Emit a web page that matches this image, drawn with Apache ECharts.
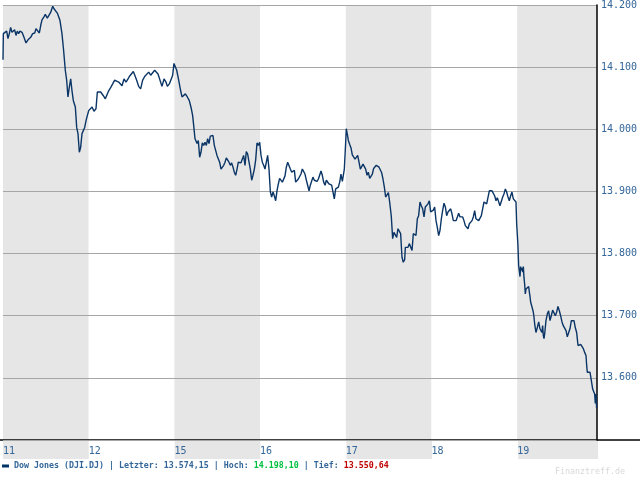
<!DOCTYPE html>
<html><head><meta charset="utf-8">
<script src="https://cdn.jsdelivr.net/npm/echarts@6/dist/echarts.min.js"></script>
<style>html,body{margin:0;padding:0;background:#fff}#c{width:640px;height:480px}</style>
</head><body><div id="c"></div>
<script>
// day labels (trading days, index 0..6)
const dayLabels = ['11', '12', '15', '16', '17', '18', '19'];
// time in trading days from start (0 = open of the 11th)
const times = [
0.000,0.004,0.019,0.043,0.058,0.074,0.089,0.105,0.121,0.136,0.152,0.167,0.183,0.198,0.222,0.245,0.268,0.292,0.323,0.346,
0.370,0.385,0.408,0.424,0.440,0.455,0.478,0.494,0.517,0.540,0.556,0.580,0.595,0.611,0.634,0.650,0.665,0.688,0.704,0.727,
0.743,0.758,0.774,0.790,0.805,0.821,0.844,0.860,0.875,0.891,0.906,0.922,0.937,0.953,0.969,0.984,1.000,1.015,1.039,1.062,
1.085,1.101,1.116,1.140,1.171,1.194,1.210,1.233,1.256,1.280,1.303,1.326,1.350,1.373,1.389,1.412,1.435,1.459,1.474,1.497,
1.521,1.544,1.560,1.583,1.606,1.630,1.653,1.676,1.700,1.723,1.746,1.770,1.785,1.809,1.832,1.855,1.879,1.902,1.918,1.941,
1.964,1.980,1.995,2.011,2.027,2.050,2.073,2.089,2.112,2.128,2.151,2.174,2.198,2.213,2.229,
2.240,2.264,2.279,2.295,2.310,2.326,2.342,2.357,2.373,2.388,2.404,2.419,2.435,2.450,2.466,2.482,2.497,2.513,2.528,2.544,
2.559,2.575,2.591,2.606,2.622,2.637,2.653,2.668,2.684,2.699,2.715,2.731,2.746,2.762,2.777,2.793,2.808,2.824,2.839,2.855,
2.871,2.886,2.902,2.917,2.933,2.948,2.964,2.980,2.995,3.011,3.026,3.042,3.057,3.073,3.088,3.104,3.120,3.135,3.151,3.166,
3.182,3.197,3.213,3.228,3.244,3.260,3.275,3.291,3.306,3.322,3.337,3.353,3.369,3.384,3.400,3.415,3.431,3.446,3.462,3.477,
3.493,3.509,3.524,3.540,3.555,3.571,3.586,3.602,3.617,3.633,3.649,3.664,3.680,3.695,3.711,3.726,3.742,3.758,3.773,3.789,
3.804,3.820,3.835,3.851,3.866,3.882,3.898,3.913,3.929,3.944,3.960,3.983,3.999,4.006,4.014,4.030,4.045,4.061,4.076,4.092,
4.108,4.123,4.139,4.154,4.170,4.185,4.201,4.217,4.232,4.248,4.263,4.279,4.294,4.310,4.325,4.341,4.356,4.372,4.388,4.403,
4.419,4.434,4.450,4.465,4.481,4.497,4.512,4.531,
4.547,4.562,4.578,4.594,4.609,4.625,4.640,4.656,4.671,4.687,4.695,4.710,4.726,4.741,4.757,4.773,4.788,4.804,4.819,4.835,
4.850,4.866,4.881,4.897,4.913,4.928,4.944,4.959,4.975,4.990,5.006,5.022,5.037,5.053,5.068,5.084,5.099,5.115,5.130,5.146,
5.162,5.177,5.193,5.208,5.224,5.239,5.255,5.270,5.286,5.302,5.317,5.333,5.348,5.364,5.379,5.395,5.411,5.426,5.442,5.457,
5.473,5.488,5.504,5.519,5.535,5.551,5.566,5.582,5.597,5.613,5.628,5.644,5.659,5.675,5.691,5.706,5.722,5.737,5.753,5.768,
5.784,5.799,5.815,5.831,5.846,5.862,5.877,5.893,5.908,5.924,5.939,5.955,5.970,5.986,5.994,6.009,6.017,
6.025,6.033,6.040,6.048,6.056,6.064,6.072,6.079,6.087,6.095,6.103,6.110,6.126,6.134,6.142,6.149,6.157,6.173,6.188,6.196,
6.204,6.219,6.235,6.251,6.266,6.282,6.289,6.297,6.305,6.313,6.321,6.336,6.352,6.367,6.383,6.398,6.414,6.429,6.445,6.461,
6.476,6.492,6.507,6.523,6.538,6.554,6.570,6.585,6.601,6.616,6.632,6.647,6.663,6.678,6.694,6.710,6.725,6.741,6.756,6.772,
6.787,6.795,6.803,6.811,6.818,6.834,6.850,6.865,6.881,6.896,6.904,6.912,6.920,6.927
];
// Dow Jones index level
const values = [
14112,14154,14156,14158,14146,14154,14164,14156,14154,14160,14151,14158,14154,14158,14156,14148,14139,14144,14148,14154,
14155,14162,14159,14155,14167,14176,14181,14185,14179,14178,14188,14198,14194,14191,14187,14190,14175,14154,14132,14095,
14079,14052,14068,14081,14062,14046,14036,14003,13993,13963,13971,13993,13995,14003,14014,14022,14030,14027,14036,14029,
14033,14060,14063,14060,14054,14049,14052,14062,14067,14073,14079,14081,14076,14073,14070,14081,14076,14081,14085,14087,
14093,14090,14079,14069,14065,14079,14085,14083,14092,14087,14089,14095,14092,14089,14087,14069,14081,14076,14069,14073,
14076,14087,14106,14103,14095,14079,14062,14052,14053,14057,14052,14046,14033,14022,14001,
13985,13977,13982,13955,13963,13978,13974,13979,13974,13985,13977,13989,13987,13990,13974,13971,13958,13958,13947,13936,
13934,13942,13947,13954,13954,13947,13942,13946,13939,13931,13926,13936,13947,13948,13946,13952,13958,13942,13964,13960,
13947,13936,13918,13926,13936,13950,13978,13974,13979,13958,13947,13942,13936,13947,13958,13936,13899,13891,13899,13893,
13885,13901,13912,13921,13918,13915,13912,13925,13939,13947,13950,13936,13931,13928,13934,13915,13918,13920,13921,13928,
13936,13937,13928,13918,13910,13901,13910,13912,13923,13918,13921,13916,13920,13923,13933,13926,13915,13910,13918,13920,
13912,13915,13910,13899,13888,13904,13901,13907,13915,13928,13916,13936,13980,14001,13995,13982,13976,13970,13959,13958,
13952,13955,13958,13960,13936,13939,13944,13946,13936,13926,13931,13921,13923,13928,13937,13939,13942,13943,13939,13936,
13930,13920,13907,13891,13893,13898,13883,13860,
13824,13834,13832,13826,13840,13837,13832,13794,13786,13790,13810,13813,13810,13816,13813,13805,13832,13834,13829,13856,
13861,13883,13877,13872,13859,13875,13872,13880,13885,13867,13864,13870,13875,13853,13842,13829,13837,13856,13869,13881,
13875,13861,13867,13869,13872,13864,13853,13851,13853,13859,13865,13859,13856,13859,13853,13845,13842,13840,13848,13851,
13853,13859,13869,13856,13853,13853,13851,13861,13872,13883,13885,13880,13883,13901,13904,13901,13899,13893,13885,13890,
13893,13877,13877,13891,13896,13904,13899,13891,13885,13893,13899,13888,13891,13883,13848,13813,13781,
13781,13763,13779,13773,13777,13770,13779,13762,13751,13735,13743,13741,13743,13747,13738,13732,13722,13714,13706,13698,
13687,13673,13681,13690,13679,13681,13673,13684,13668,13663,13671,13692,13703,13708,13692,13700,13709,13706,13700,13706,
13715,13708,13700,13690,13684,13687,13676,13666,13673,13679,13692,13695,13692,13681,13673,13652,13650,13654,13652,13647,
13641,13644,13636,13620,13609,13612,13609,13596,13582,13580,13574,13559,13574,13551
];
const seriesName = 'Dow Jones (DJI.DJ)';
const lastValue = '13.574,15';
const highValue = '14.198,10';
const lowValue = '13.550,64';
const sourceText = 'Finanztreff.de';
const yMin = 13500, yMax = 14200, yStep = 100;
const xMax = 6.93;

const data = times.map((t, i) => [t, values[i]]);
const font = 'DejaVu Sans Mono';
const blue = '#336699';
const bands = { show: true, areaStyle: { color: ['#e6e6e6', '#ffffff'] } };

const chart = echarts.init(document.getElementById('c'), null, { renderer: 'canvas' });
chart.setOption({
  animation: false,
  backgroundColor: '#ffffff',
  title: [
    {
      left: 2, top: 462, padding: 0,
      text: '{dash|}{t| ' + seriesName + ' | Letzter: ' + lastValue + ' | Hoch: }{g|' + highValue + '}{t| | Tief: }{r|' + lowValue + '}',
      textStyle: {
        rich: {
          dash: { width: 7, height: 3, backgroundColor: '#003366' },
          t: { fontFamily: font, fontSize: 8.3, color: blue },
          g: { fontFamily: font, fontSize: 8.3, color: '#00c040' },
          r: { fontFamily: font, fontSize: 8.3, color: '#c00000' }
        }
      }
    },
    {
      right: 15, top: 468, padding: 0,
      text: sourceText,
      textStyle: { fontFamily: font, fontSize: 8.3, fontWeight: 'normal', color: '#d8d8d8' }
    }
  ],
  grid: [
    { left: 3, top: 4.5, width: 594, height: 435.5 },
    { left: 3, top: 440, width: 595, height: 19 },
    { left: 0, top: 440, width: 640, height: 0 }
  ],
  xAxis: [
    {
      gridIndex: 0, type: 'value', min: 0, max: xMax, interval: 1, z: -2,
      axisLine: { show: false }, axisTick: { show: false }, splitLine: { show: false },
      splitArea: bands,
      axisLabel: {
        show: true, align: 'left', margin: 6, color: blue, fontFamily: font, fontSize: 10,
        showMaxLabel: false,
        formatter: v => (Math.abs(v - Math.round(v)) < 1e-6 && dayLabels[Math.round(v)]) ? dayLabels[Math.round(v)] : ''
      }
    },
    {
      gridIndex: 1, type: 'value', min: 0, max: xMax, interval: 1, z: -3,
      axisLine: { show: false }, axisTick: { show: false }, axisLabel: { show: false },
      splitLine: { show: false }, splitArea: bands
    },
    {
      gridIndex: 2, type: 'value', min: 0, max: 1,
      axisLine: { show: true, lineStyle: { color: '#000000', width: 1.5 } },
      axisTick: { show: false }, axisLabel: { show: false }, splitLine: { show: false }
    }
  ],
  yAxis: [
    {
      gridIndex: 0, type: 'value', position: 'right', min: yMin, max: yMax, interval: yStep, z: 1,
      axisLine: { show: true, onZero: false, lineStyle: { color: '#000000', width: 1.5 } },
      axisTick: { show: false },
      splitLine: { show: true, lineStyle: { color: '#a6a6a6', width: 1 } },
      axisLabel: {
        margin: 4, color: blue, fontFamily: font, fontSize: 10, showMinLabel: false,
        formatter: v => (v / 1000).toFixed(3)
      }
    },
    { gridIndex: 1, type: 'value', show: false },
    { gridIndex: 2, type: 'value', show: false }
  ],
  series: [
    {
      type: 'line', name: seriesName, xAxisIndex: 0, yAxisIndex: 0,
      data: data, showSymbol: false, symbol: 'none',
      lineStyle: { color: '#0a3566', width: 1.4 }
    }
  ]
});
</script>
</body></html>
